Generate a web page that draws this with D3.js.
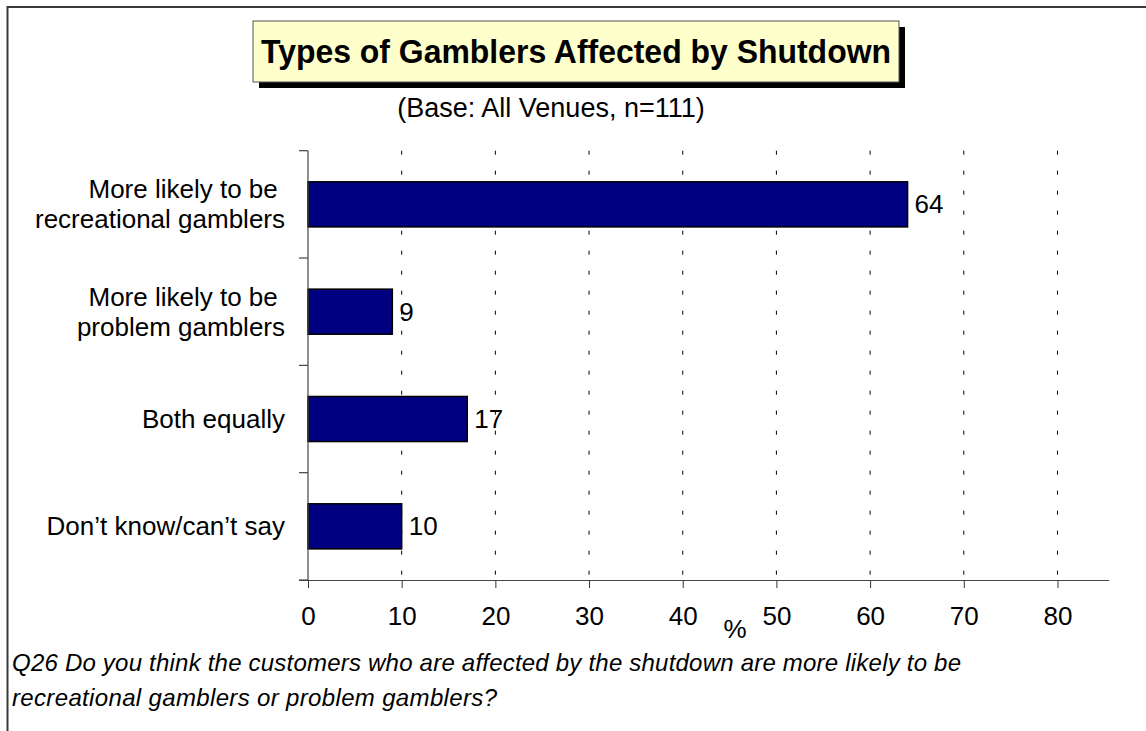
<!DOCTYPE html>
<html>
<head>
<meta charset="utf-8">
<script src="https://cdn.jsdelivr.net/npm/d3@7"></script>
<style>
  html, body { margin: 0; padding: 0; background: #fff; }
  svg text { font-family: "Liberation Sans", Arial, sans-serif; fill: #000; }
</style>
</head>
<body>
<svg id="chart" width="1146" height="731"></svg>
<script>
// Survey responses: which gamblers are affected by the shutdown (% of venues)
const categories = [
  ["More likely to be\u00a0", "recreational gamblers"],
  ["More likely to be\u00a0", "problem gamblers"],
  ["Both equally"],
  ["Don\u2019t know/can\u2019t say"]
];
const values = [64, 9, 17, 10];
const xTicks = [0, 10, 20, 30, 40, 50, 60, 70, 80];

const titleText = "Types of Gamblers Affected by Shutdown";
const subtitleText = "(Base: All Venues, n=111)";
const footnoteLines = [
  "Q26 Do you think the customers who are affected by the shutdown are more likely to be",
  "recreational gamblers or problem gamblers?"
];
const footnoteWidths = [949, 485];

const labelSize = 26;
const svg = d3.select("#chart");

// Frame lines along the top and left edges
svg.append("line").attr("x1", 7).attr("x2", 1146).attr("y1", 7).attr("y2", 7)
  .attr("stroke", "#3a3a3a").attr("stroke-width", 2);
svg.append("line").attr("x1", 7.5).attr("x2", 7.5).attr("y1", 6).attr("y2", 731)
  .attr("stroke", "#3a3a3a").attr("stroke-width", 2);

// Title box with drop shadow
const box = { x: 253, y: 21, w: 646, h: 61 };
svg.append("rect").attr("x", box.x + 6).attr("y", box.y + 6)
  .attr("width", box.w).attr("height", box.h).attr("fill", "#000");
svg.append("rect").attr("x", box.x).attr("y", box.y)
  .attr("width", box.w).attr("height", box.h)
  .attr("fill", "#FFFFCC").attr("stroke", "#555").attr("stroke-width", 1);
svg.append("text").attr("x", box.x + box.w / 2).attr("y", box.y + 42)
  .attr("text-anchor", "middle").attr("font-weight", "bold")
  .attr("font-size", 33).attr("textLength", 630).attr("lengthAdjust", "spacingAndGlyphs")
  .text(titleText);

svg.append("text").attr("x", 551).attr("y", 117)
  .attr("text-anchor", "middle").attr("font-size", 27)
  .text(subtitleText);

// Scales
const x = d3.scaleLinear().domain([0, 85.5]).range([308, 1109]);
const y = d3.scaleBand().domain(d3.range(categories.length))
  .range([150.7, 580]).paddingInner(0.58).paddingOuter(0.29);
const step = y.step();
const y0 = 150.7, yBottom = 580;

// Dashed vertical gridlines
svg.append("g").selectAll("line").data(xTicks.filter(d => d > 0)).join("line")
  .attr("x1", d => x(d)).attr("x2", d => x(d))
  .attr("y1", y0).attr("y2", yBottom)
  .attr("stroke", "#000").attr("stroke-width", 1).attr("stroke-dasharray", "4,16");

// Bars
svg.append("g").selectAll("rect").data(values).join("rect")
  .attr("x", x(0)).attr("y", (d, i) => y(i))
  .attr("width", d => x(d) - x(0)).attr("height", y.bandwidth())
  .attr("fill", "#000080").attr("stroke", "#000").attr("stroke-width", 1.5);

// Value labels
svg.append("g").selectAll("text").data(values).join("text")
  .attr("x", d => x(d) + 7).attr("y", (d, i) => y(i) + y.bandwidth() / 2 + 9)
  .attr("font-size", labelSize).text(d => d);

// X axis
const xAxis = d3.axisBottom(x).tickValues(xTicks).tickSize(8).tickPadding(19);
const gx = svg.append("g").attr("transform", `translate(0,${yBottom})`).call(xAxis);
gx.select(".domain").remove();
gx.selectAll(".tick line").attr("stroke", "#333");
gx.selectAll(".tick text").attr("font-size", labelSize)
  .attr("font-family", "Liberation Sans, Arial, sans-serif").attr("fill", "#000");
svg.append("line").attr("x1", 299).attr("x2", 1109).attr("y1", yBottom + 0.5).attr("y2", yBottom + 0.5)
  .attr("stroke", "#444").attr("stroke-width", 1.2);

// Y axis line and category boundary ticks
svg.append("line").attr("x1", x(0)).attr("x2", x(0)).attr("y1", y0).attr("y2", yBottom)
  .attr("stroke", "#444").attr("stroke-width", 1.2);
svg.append("g").selectAll("line").data(d3.range(categories.length + 1)).join("line")
  .attr("x1", 299).attr("x2", x(0))
  .attr("y1", i => y0 + i * step).attr("y2", i => y0 + i * step)
  .attr("stroke", "#444").attr("stroke-width", 1.2);

// Category labels
const lineH = 30;
const cat = svg.append("g").selectAll("text").data(categories).join("text")
  .attr("text-anchor", "end").attr("font-size", labelSize)
  .attr("y", (d, i) => y(i) + y.bandwidth() / 2 + 9 - (d.length - 1) * lineH / 2);
cat.selectAll("tspan").data(d => d).join("tspan")
  .attr("x", 285).attr("dy", (d, j) => j === 0 ? 0 : lineH).text(d => d);

// Axis unit
svg.append("text").attr("x", 735).attr("y", 638).attr("text-anchor", "middle")
  .attr("font-size", labelSize).text("%");

// Question footnote
svg.append("g").selectAll("text").data(footnoteLines).join("text")
  .attr("x", 12).attr("y", (d, i) => 671 + i * 35)
  .attr("font-size", 24).attr("font-style", "italic")
  .attr("textLength", (d, i) => footnoteWidths[i]).attr("lengthAdjust", "spacing")
  .text(d => d);
</script>
</body>
</html>
